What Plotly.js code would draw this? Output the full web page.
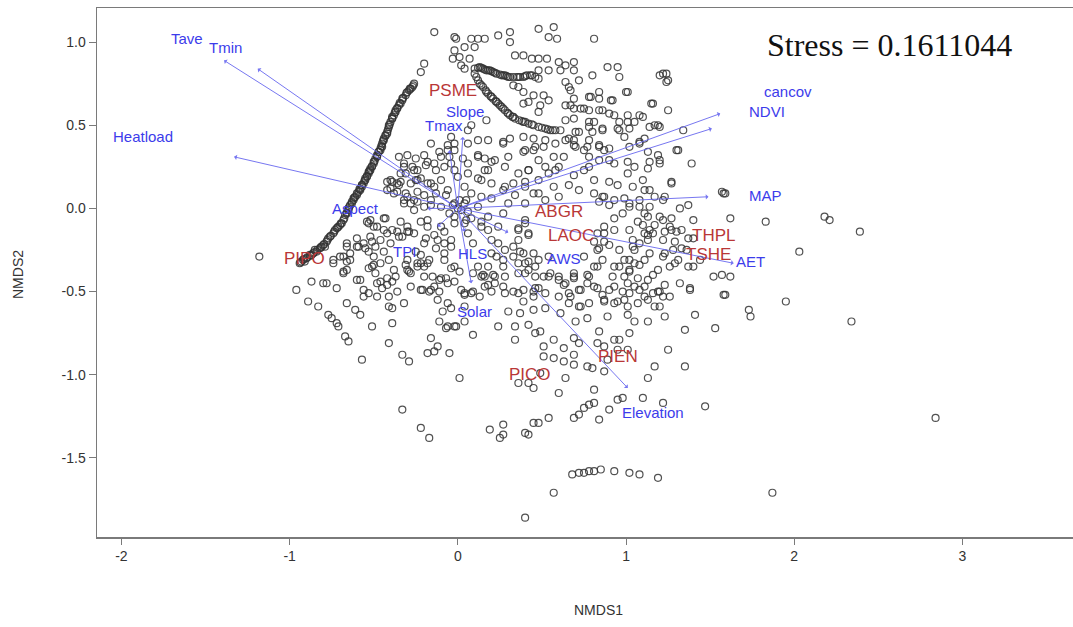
<!DOCTYPE html>
<html>
<head>
<meta charset="utf-8">
<script src="https://cdn.plot.ly/plotly-3.0.1.min.js"></script>
<style>
  html, body { margin: 0; padding: 0; background: #ffffff; }
  #chart { width: 1073px; height: 627px; }
</style>
</head>
<body>
<div id="chart"></div>
<script>
// NMDS site scores [NMDS1, NMDS2]
const sitePoints = [
  // dense ponderosa pine arc
  [-0.94,-0.33],[-0.92,-0.31],[-0.90,-0.30],[-0.88,-0.28],[-0.86,-0.27],[-0.84,-0.26],[-0.82,-0.24],[-0.80,-0.22],[-0.78,-0.20],[-0.76,-0.17],
  [-0.74,-0.15],[-0.72,-0.12],[-0.70,-0.10],[-0.68,-0.07],[-0.67,-0.04],[-0.65,-0.01],[-0.64,0.02],[-0.62,0.05],[-0.61,0.07],[-0.59,0.10],
  [-0.58,0.12],[-0.56,0.15],[-0.55,0.18],[-0.53,0.21],[-0.52,0.24],[-0.50,0.27],[-0.49,0.30],[-0.48,0.32],[-0.46,0.36],[-0.45,0.39],
  [-0.44,0.42],[-0.42,0.46],[-0.41,0.49],[-0.40,0.52],[-0.38,0.56],[-0.37,0.59],[-0.35,0.62],[-0.33,0.65],[-0.31,0.68],[-0.29,0.71],
  [-0.27,0.73],[-0.26,0.75],[-0.91,-0.32],[-0.85,-0.25],[-0.79,-0.23],[-0.73,-0.13],[-0.69,-0.09],[-0.66,-0.03],[-0.63,0.03],[-0.60,0.08],
  [-0.57,0.14],[-0.54,0.19],[-0.51,0.25],[-0.47,0.34],[-0.45,0.37],[-0.43,0.44],[-0.41,0.50],[-0.39,0.54],[-0.36,0.60],[-0.34,0.63],
  [-0.30,0.70],[-0.28,0.72],[-0.53,0.22],[-0.57,0.13],[-0.48,0.31],[-0.44,0.41],[-0.93,-0.32],[-0.87,-0.28],[-0.81,-0.23],[-0.77,-0.18],
  [-0.71,-0.11],[-0.65,0.00],[-0.62,0.06],[-0.58,0.11],[-0.55,0.17],[-0.52,0.23],[-0.50,0.28],[-0.46,0.35],[-0.42,0.45],[-0.39,0.55],
  [-0.37,0.58],[-0.33,0.66],
  [-0.935,-0.325],[-0.915,-0.305],[-0.895,-0.295],[-0.875,-0.285],[-0.855,-0.265],[-0.835,-0.25],[-0.815,-0.235],[-0.795,-0.215],
  [-0.775,-0.19],[-0.755,-0.165],[-0.735,-0.14],[-0.715,-0.115],[-0.695,-0.09],[-0.675,-0.06],[-0.66,-0.025],[-0.645,0.01],
  [-0.63,0.04],[-0.615,0.065],[-0.60,0.09],[-0.585,0.115],[-0.57,0.14],[-0.555,0.165],[-0.54,0.195],[-0.525,0.225],
  [-0.51,0.255],[-0.495,0.285],[-0.48,0.315],[-0.47,0.34],[-0.455,0.375],[-0.445,0.405],[-0.43,0.435],[-0.415,0.475],
  [-0.405,0.505],[-0.39,0.54],[-0.375,0.575],[-0.36,0.605],[-0.345,0.635],[-0.325,0.665],[-0.305,0.695],[-0.285,0.72],[-0.265,0.74],
  // Douglas-fir chains
  [0.13,0.85],[0.17,0.83],[0.21,0.82],[0.26,0.80],[0.30,0.79],[0.36,0.79],[0.39,0.79],[0.44,0.80],[0.48,0.78],[0.10,0.84],
  [0.15,0.84],[0.19,0.83],[0.23,0.81],[0.28,0.80],[0.33,0.79],[0.41,0.80],[0.46,0.79],[0.48,0.83],[0.54,0.83],[0.61,0.83],
  [0.12,0.845],[0.14,0.845],[0.16,0.835],[0.18,0.83],[0.20,0.825],[0.22,0.815],[0.25,0.805],[0.27,0.80],[0.29,0.795],[0.31,0.79],
  [0.35,0.79],[0.37,0.79],[0.40,0.795],[0.43,0.80],
  [0.10,0.81],[0.12,0.77],[0.15,0.73],[0.18,0.69],[0.21,0.66],[0.24,0.63],[0.28,0.59],[0.31,0.56],[0.34,0.54],[0.39,0.52],
  [0.42,0.51],[0.45,0.50],[0.55,0.47],[0.58,0.47],[0.61,0.47],[0.13,0.75],[0.165,0.71],[0.195,0.675],[0.225,0.645],[0.26,0.61],
  [0.295,0.575],[0.325,0.55],[0.365,0.53],[0.48,0.49],[0.52,0.48],
  [0.11,0.79],[0.14,0.74],[0.17,0.70],[0.20,0.67],[0.23,0.64],[0.25,0.62],[0.27,0.60],[0.30,0.57],[0.33,0.55],[0.38,0.525],
  [0.40,0.52],[0.44,0.505],[0.50,0.485],[0.535,0.475],[0.565,0.47],
  // upper centre
  [-0.14,1.06],[-0.02,1.03],[-0.01,1.02],[0.08,1.02],[0.12,1.02],[0.16,1.02],[0.24,1.04],[0.31,1.06],[0.31,1.00],[0.48,1.08],
  [0.57,1.09],[0.54,1.03],[0.59,1.02],[-0.02,0.95],[0.04,0.97],[0.10,0.97],[-0.03,0.90],[0.01,0.91],[0.02,0.86],[0.04,0.84],
  [0.07,0.90],[-0.20,0.87],[-0.22,0.82],[0.34,0.92],[0.39,0.92],[0.44,0.90],[0.48,0.90],[0.53,0.90],[0.60,0.88],[0.64,0.86],
  [0.64,0.76],[0.66,0.73],[0.33,0.74],[0.36,0.73],[0.39,0.70],[0.45,0.68],[0.51,0.68],[0.54,0.65],[0.42,0.64],[0.39,0.63],
  [0.48,0.58],[0.49,0.62],[0.64,0.62],[0.69,0.60],[0.64,0.53],[0.17,0.53],[0.08,0.50],[0.12,0.41],[0.18,0.41],[0.27,0.40],
  [0.31,0.42],[0.39,0.34],[0.45,0.35],[0.51,0.37],[-0.06,0.38],[-0.02,0.39],[0.06,0.47],[-0.11,0.34],[-0.05,0.31],[0.03,0.30],
  [0.12,0.32],[0.16,0.30],[0.20,0.28],[-0.30,0.32],[-0.25,0.30],[-0.18,0.28],[0.66,0.42],[0.69,0.38],
  // upper right
  [0.81,1.02],[0.89,0.85],[0.95,0.85],[0.96,0.79],[0.69,0.88],[0.72,0.77],[0.80,0.80],[1.22,0.81],[1.25,0.77],[1.01,0.70],
  [0.69,0.66],[0.73,0.60],[0.78,0.67],[0.84,0.66],[0.92,0.65],[0.84,0.59],[0.90,0.57],[1.01,0.56],[1.08,0.56],[1.15,0.63],
  [1.25,0.59],[1.14,0.49],[1.19,0.50],[1.05,0.52],[0.96,0.52],[1.02,0.48],[0.96,0.47],[0.86,0.48],[0.78,0.49],[0.72,0.46],
  [1.34,0.47],[1.30,0.35],[1.39,0.27],[0.70,0.37],[0.77,0.37],[0.84,0.37],[0.90,0.36],[1.02,0.37],[1.08,0.39],[1.13,0.34],
  [1.19,0.32],[1.20,0.27],[1.05,0.25],[1.13,0.24],[1.01,0.21],[0.84,0.29],[0.93,0.27],[0.78,0.25],[0.75,0.23],[0.69,0.20],
  [0.81,0.17],[0.90,0.16],[0.95,0.14],[0.66,0.14],[0.72,0.11],[1.11,0.11],[1.17,0.07],[1.23,0.07],[1.27,0.16],[1.08,0.05],
  [1.14,0.01],[0.99,0.06],[1.02,0.03],[0.87,0.07],[0.93,0.05],[0.81,0.09],[0.84,0.04],[1.57,0.10],[1.59,0.09],
  [0.69,0.83],[1.20,0.80],[1.24,0.81],[1.24,0.76],[0.67,0.71],[0.84,0.70],[0.79,0.67],[1.00,0.70],[0.67,0.62],[0.75,0.60],
  [0.78,0.59],[0.86,0.59],[0.91,0.65],[1.16,0.63],[0.69,0.54],[0.78,0.52],[0.81,0.52],[0.93,0.56],[1.01,0.52],[1.10,0.55],
  [1.17,0.50],[1.20,0.49],[0.70,0.46],[0.80,0.46],[0.86,0.47],[0.95,0.48],[0.69,0.41],[0.78,0.41],[0.84,0.38],[0.87,0.35],
  [0.99,0.43],[1.08,0.40],[1.11,0.42],[0.75,0.35],[0.78,0.31],[1.31,0.35],[0.90,0.29],[1.01,0.28],[1.14,0.28],[1.20,0.29],
  // right of origin, middle band
  [1.62,-0.06],[1.83,-0.08],[1.40,-0.07],[1.33,-0.13],[1.27,-0.06],[1.20,-0.05],[1.13,-0.05],[1.07,-0.08],[1.02,-0.13],[1.11,-0.15],
  [1.14,-0.13],[1.13,-0.19],[1.29,-0.20],[1.33,-0.24],[1.40,-0.18],[1.23,-0.27],[1.29,-0.33],[1.37,-0.35],[2.03,-0.26],[0.87,-0.11],
  [0.93,-0.13],[0.87,-0.15],[0.83,-0.15],[0.81,-0.20],[0.83,-0.25],[0.90,-0.22],[0.96,-0.25],[1.04,-0.23],[0.99,-0.31],[1.05,-0.33],
  [0.93,-0.35],[0.75,-0.29],[0.81,-0.35],[0.40,-0.07],[0.36,-0.13],[0.42,-0.15],[0.33,-0.23],[0.39,-0.27],[0.40,-0.33],[0.24,-0.11],
  [0.20,-0.19],[0.18,-0.05],[0.27,-0.03],[0.12,0.01],[0.14,-0.11],[0.05,-0.07],[0.06,-0.15],[0.09,-0.21],[0.23,-0.29],[0.27,-0.35],
  [0.46,-0.35],[0.55,-0.39],[0.69,-0.41],[0.78,-0.41],[0.40,0.16],[0.48,0.17],[0.54,0.21],[0.60,0.25],[0.28,0.13],[0.34,0.08],
  [0.45,0.09],[0.52,0.05],[0.60,0.07],[0.63,0.31],[0.57,0.31],[0.48,0.29],[0.42,0.23],[0.36,0.21],[0.46,0.37],[0.40,0.35],
  [0.52,0.41],[0.58,0.39],[0.64,0.41],[0.45,0.42],[0.39,0.43],[0.27,0.39],[0.30,0.31],[0.22,0.29],[0.18,0.23],[0.12,0.31],
  [0.14,0.17],[0.00,0.19],[0.04,0.13],[0.06,0.27],[0.06,0.39],[-0.02,0.35],[-0.04,0.27],
  [1.27,0.15],[1.58,0.09],[1.32,0.00],[1.37,0.02],[1.26,-0.11],[1.23,-0.14],[1.27,-0.13],[1.30,-0.14],[1.22,-0.19],[1.16,-0.15],
  [1.13,-0.16],[1.10,-0.10],[1.17,-0.10],[1.22,-0.07],[1.28,-0.25],[1.22,-0.29],[1.31,-0.31],[1.36,-0.25],[1.37,-0.18],[1.40,-0.35],
  [1.44,-0.31],[1.52,-0.41],[1.57,-0.40],[1.62,-0.41],[1.58,-0.52],[1.38,-0.48],[1.32,-0.45],[1.23,-0.46],[1.26,-0.35],[1.19,-0.37],
  [1.16,-0.40],[1.11,-0.47],[1.14,-0.27],[1.11,-0.31],[1.08,-0.34],[1.05,-0.25],[1.04,-0.19],[1.08,-0.21],[1.02,-0.31],[1.02,-0.38],
  [0.99,-0.41],[1.01,-0.45],[1.05,-0.47],[1.02,-0.51],[0.98,-0.50],[0.93,-0.47],[0.92,-0.41],[0.90,-0.49],[0.86,-0.52],[0.81,-0.47],
  [0.87,-0.56],[0.93,-0.57],[0.99,-0.55],[1.07,-0.57],[1.11,-0.53],[1.16,-0.51],[1.20,-0.50],[1.22,-0.53],[0.86,-0.31],[0.83,-0.35],
  [0.84,-0.24],[0.87,-0.20],[0.93,-0.06],[0.98,-0.03],[1.02,0.01],[0.90,0.02],[0.86,0.07],[1.11,-0.03],[1.08,0.01],[1.04,0.13],
  [1.10,0.17],[1.14,0.11],[1.22,0.05],[0.73,-0.59],[0.66,-0.57],[0.73,-0.49],[0.77,-0.40],[0.69,-0.39],[0.64,-0.45],[0.66,-0.51],
  // around the origin
  [-0.32,0.25],[-0.26,0.23],[-0.19,0.26],[-0.13,0.23],[-0.08,0.25],[-0.02,0.23],[-0.40,0.17],[-0.35,0.14],[-0.28,0.15],[-0.22,0.18],
  [-0.16,0.15],[-0.10,0.17],[-0.31,0.09],[-0.26,0.05],[-0.20,0.08],[-0.13,0.09],[-0.07,0.08],[-0.32,0.03],[-0.26,-0.01],[-0.16,0.02],
  [-0.10,0.01],[0.06,0.21],[0.12,0.18],[0.16,0.23],[0.20,0.15],[0.27,0.11],[0.33,0.15],[0.08,0.09],[0.14,0.07],[0.20,0.06],
  [0.30,0.03],[0.28,0.25],[0.42,0.23],[0.52,0.25],[0.58,0.23],[0.40,0.13],[0.48,0.09],[0.57,0.13],[0.40,0.03],
  [0.00,0.00],[0.02,-0.01],[-0.03,0.02],[0.04,0.03],[-0.05,-0.03],[0.06,-0.02],[0.01,0.05],[-0.02,-0.05],
  [-0.54,-0.08],[-0.48,-0.11],[-0.43,-0.06],[-0.39,-0.13],[-0.35,-0.17],[-0.30,-0.14],[-0.22,-0.08],[-0.18,-0.11],[-0.19,-0.18],[-0.14,-0.16],
  [-0.08,-0.14],[-0.02,-0.09],[0.04,-0.09],[0.08,-0.06],[0.14,-0.08],[0.18,-0.13],[0.36,-0.12],[0.40,-0.09],[0.36,-0.19],[0.42,-0.16],
  [-0.60,-0.18],[-0.66,-0.21],[-0.55,-0.24],[-0.49,-0.23],[-0.50,-0.29],[-0.44,-0.26],[-0.53,-0.36],[-0.46,-0.33],[-0.41,-0.31],[-0.38,-0.37],
  [-0.31,-0.34],[-0.22,-0.28],[-0.17,-0.31],[-0.13,-0.24],[-0.08,-0.27],[-0.04,-0.23],[-0.08,-0.21],[-0.22,-0.33],[-0.28,-0.39],[-0.20,-0.41],
  [-0.15,-0.41],[-0.10,-0.42],[-0.04,-0.36],[0.01,-0.38],[0.09,-0.39],[0.14,-0.41],[0.12,-0.35],[0.18,-0.35],[0.27,-0.31],[0.33,-0.29],
  [0.24,-0.21],[0.28,-0.25],[0.20,-0.27],[0.37,-0.26],[0.45,-0.27],[0.36,-0.33],[0.42,-0.32],[0.48,-0.31],[0.54,-0.29],[0.40,-0.39],
  [0.46,-0.41],[0.54,-0.41],[0.60,-0.43],[0.48,-0.48],[0.52,-0.51],[0.45,-0.53],[0.36,-0.51],[0.27,-0.47],[0.20,-0.50],[0.15,-0.40],
  [0.16,-0.47],[0.22,-0.41],[0.08,-0.51],[0.02,-0.49],[-0.06,-0.45],[-0.14,-0.47],[-0.22,-0.49],[-0.17,-0.50],[-0.28,-0.47],[-0.36,-0.50],
  [-0.42,-0.42],[-0.48,-0.45],[-0.56,-0.49],[-0.60,-0.43],[-0.64,-0.31],[-0.66,-0.37],[-0.56,-0.53],[-0.48,-0.53],[-0.41,-0.59],[-0.32,-0.57],
  [-0.12,-0.55],[-0.06,-0.57],[0.04,-0.59],
  // lower left
  [-0.96,-0.49],[-0.87,-0.44],[-0.80,-0.45],[-0.78,-0.45],[-0.89,-0.56],[-0.83,-0.59],[-0.77,-0.64],[-0.75,-0.66],[-0.72,-0.69],[-0.71,-0.71],
  [-0.67,-0.77],[-0.65,-0.80],[-0.68,-0.39],[-0.72,-0.48],[-0.58,-0.43],[-0.53,-0.51],[-0.66,-0.57],[-0.61,-0.61],[-0.58,-0.64],[-0.51,-0.71],
  [-0.50,-0.34],[-0.46,-0.44],[-0.45,-0.48],[-0.42,-0.46],[-0.39,-0.44],[-0.37,-0.41],[-0.41,-0.53],[-0.39,-0.60],[-0.39,-0.69],[-0.41,-0.81],
  [-0.57,-0.91],[-0.33,-0.88],[-0.29,-0.92],[-0.29,-0.38],[-0.24,-0.33],[-0.20,-0.35],[-0.21,-0.49],[-0.16,-0.49],[-0.11,-0.50],[-0.11,-0.43],
  [-0.07,-0.42],[-0.02,-0.44],[-0.16,-0.78],[-0.18,-0.87],[-0.14,-0.86],[-0.12,-0.83],[-0.05,-0.87],[-0.11,-0.68],[-0.07,-0.72],[-0.01,-0.71],
  [-0.09,-0.62],[-0.04,-0.60],[0.04,-0.68],[0.04,-0.52],[0.01,-1.02],[-0.33,-1.21],[-0.22,-1.32],[-0.17,-1.38],[0.09,-0.76],[-0.74,-0.33],
  [-0.66,-0.32],
  // lower centre and right
  [0.04,-0.51],[0.09,-0.50],[0.13,-0.53],[0.16,-0.41],[0.21,-0.40],[0.28,-0.41],[0.18,-0.46],[0.22,-0.45],[0.36,-0.39],[0.42,-0.37],
  [0.28,-0.51],[0.33,-0.50],[0.39,-0.49],[0.45,-0.50],[0.46,-0.48],[0.51,-0.41],[0.60,-0.41],[0.63,-0.46],[0.69,-0.42],[0.77,-0.45],
  [0.83,-0.48],[0.72,-0.49],[0.52,-0.60],[0.60,-0.53],[0.67,-0.53],[0.61,-0.63],[0.70,-0.68],[0.39,-0.56],[0.45,-0.61],[0.37,-0.63],
  [0.30,-0.62],[0.24,-0.71],[0.34,-0.71],[0.42,-0.70],[0.46,-0.75],[0.49,-0.74],[0.34,-0.79],[-0.06,-0.71],[-0.02,-0.71],[0.57,-0.79],
  [0.63,-0.84],[0.51,-0.83],[0.51,-0.89],[0.57,-0.90],[0.63,-0.92],[0.69,-0.88],[0.69,-0.94],[0.64,-1.02],[0.60,-1.11],[0.49,-0.99],
  [0.45,-1.08],[0.42,-1.05],[0.36,-1.05],[0.72,-0.81],[0.69,-0.78],[0.77,-0.95],[0.80,-0.96],[0.83,-0.81],[0.87,-0.83],[0.89,-0.91],
  [0.93,-0.79],[0.96,-0.79],[0.95,-0.85],[1.01,-0.85],[0.87,-0.98],[0.72,-0.59],[0.77,-0.66],[0.78,-0.57],[0.87,-0.55],[0.89,-0.65],
  [0.95,-0.56],[0.84,-0.74],[1.01,-0.59],[1.01,-0.64],[1.05,-0.68],[1.02,-0.75],[1.13,-0.55],[1.13,-0.68],[1.08,-0.49],[1.13,-0.43],
  [0.96,-0.35],[1.02,-0.37],[1.07,-0.42],[1.17,-0.59],[1.20,-0.59],[1.23,-0.65],[1.19,-0.50],[1.26,-0.53],[1.38,-0.49],[1.41,-0.64],
  [1.35,-0.73],[1.53,-0.72],[1.25,-0.85],[1.17,-0.95],[1.13,-1.02],[1.35,-0.95],[1.73,-0.61],[1.74,-0.65],[1.59,-0.52],[1.95,-0.56],
  [0.81,-1.09],[0.81,-1.17],[0.78,-1.18],[0.75,-1.20],[0.72,-1.24],[0.69,-1.26],[0.84,-1.27],[0.90,-1.21],[0.95,-1.15],[0.98,-1.14],
  [1.10,-1.14],[1.22,-1.17],[1.47,-1.19],[0.54,-1.26],[0.45,-1.29],[0.48,-1.29],[0.19,-1.33],[0.27,-1.30],[0.25,-1.38],[0.27,-1.36],
  [0.40,-1.35],[0.42,-1.36],[0.57,-1.71],[0.40,-1.86],
  [0.68,-1.60],[0.72,-1.59],[0.75,-1.59],[0.78,-1.58],[0.81,-1.58],[0.85,-1.57],[0.93,-1.58],[1.02,-1.59],[1.08,-1.60],[1.19,-1.62],
  [1.87,-1.71],[2.18,-0.05],[2.21,-0.07],[2.39,-0.14],[2.34,-0.68],[2.84,-1.26],
  // left cluster
  [-1.18,-0.29],[-0.74,-0.31],[-0.68,-0.29],[-0.64,-0.27],[-0.59,-0.23],[-0.53,-0.26],[-0.51,-0.20],[-0.46,-0.19],[-0.42,-0.15],[-0.53,-0.09],
  [-0.50,-0.11],[-0.36,-0.14],[-0.33,-0.17],[-0.29,-0.14],[-0.34,-0.08],[-0.40,-0.21],[-0.68,-0.38],[-0.51,-0.35],[-0.49,-0.39],[-0.30,-0.31],
  [-0.25,-0.26],[-0.35,0.31],[-0.32,0.27],[-0.27,0.25],[-0.24,0.23],[-0.34,0.21],[-0.39,0.16],[-0.34,0.16],[-0.24,0.17],[-0.40,0.12],
  [-0.36,0.10],[-0.24,0.10],[-0.32,0.05],[-0.28,0.03],[-0.24,0.04],[-0.31,0.21],[-0.25,0.17],[-0.18,0.15],[-0.14,0.27],[-0.10,0.31],
  [-0.06,0.35],[-0.04,0.43],[-0.16,0.39],[-0.20,0.32],[-0.14,0.13],[-0.06,0.11],[0.05,0.05],[-0.02,0.03],[-0.16,0.05],[-0.20,0.01],
  [-0.30,0.07],[-0.38,0.09],[-0.42,0.11],[-0.42,0.16],[-0.36,0.15],[-0.52,-0.07],[-0.44,-0.06],[-0.44,-0.13],[-0.30,-0.11],[-0.26,-0.15],
  [-0.18,-0.07],[-0.10,-0.11],[-0.04,-0.19],[-0.12,-0.19],[-0.20,-0.21],[-0.08,-0.31],[-0.02,-0.35],[-0.18,-0.33],[-0.24,-0.35],[-0.30,-0.37],
  [-0.56,-0.21],[-0.52,-0.17],[-0.60,-0.23],[-0.66,-0.23],[-0.70,-0.29]
];

// Fitted environmental vectors (arrow tips) and their label positions
const vecNames  = ['Tave', 'Tmin', 'Heatload', 'cancov', 'NDVI', 'MAP', 'AET', 'Elevation', 'Solar', 'Slope', 'Tmax', 'Aspect', 'TPI', 'HLS', 'AWS'];
const vecX      = [-1.39, -1.19, -1.33, 1.56, 1.51, 1.49, 1.64, 1.01, 0.08, 0.03, -0.05, -0.18, -0.12, 0.04, 0.30];
const vecY      = [0.89, 0.84, 0.31, 0.57, 0.48, 0.07, -0.33, -1.08, -0.45, 0.43, 0.35, 0.00, -0.11, -0.14, -0.145];
const vecLabelX = [-1.61, -1.38, -1.87, 1.96, 1.84, 1.83, 1.74, 1.16, 0.10, 0.04, -0.08, -0.61, -0.32, 0.09, 0.63];
const vecLabelY = [1.02, 0.97, 0.43, 0.70, 0.58, 0.08, -0.32, -1.23, -0.62, 0.58, 0.50, 0.00, -0.26, -0.27, -0.30];

// Species scores
const sppNames = ['PSME', 'ABGR', 'LAOC', 'THPL', 'TSHE', 'PIEN', 'PICO', 'PIPO'];
const sppX     = [-0.03, 0.60, 0.67, 1.52, 1.49, 0.95, 0.43, -0.91];
const sppY     = [0.71, -0.02, -0.16, -0.16, -0.28, -0.89, -1.00, -0.30];

const stressValue = 0.1611044;

const tickVals = { x: [-2, -1, 0, 1, 2, 3], y: [1.0, 0.5, 0.0, -0.5, -1.0, -1.5] };

const siteTrace = {
  type: 'scatter',
  mode: 'markers',
  x: sitePoints.map(p => p[0]),
  y: sitePoints.map(p => p[1]),
  marker: { symbol: 'circle-open', size: 7, color: 'rgba(50,50,50,0.85)', line: { width: 1.2 } },
  hoverinfo: 'skip',
  showlegend: false
};

const blue = 'rgb(60,60,235)';
const arrowColor = 'rgba(105,105,240,0.9)';
const red = 'rgb(185,55,55)';
const labelFont = 'Liberation Sans, Arial, sans-serif';

// plot area in pixels, used to place the axis titles
const plotL = 97, plotR = 1073, plotT = 8, plotB = 537;

const annotations = [];
vecNames.forEach((n, i) => {
  annotations.push({
    x: vecX[i], y: vecY[i], xref: 'x', yref: 'y',
    ax: 0, ay: 0, axref: 'x', ayref: 'y',
    showarrow: true, arrowhead: 1, arrowsize: 0.9, arrowwidth: 1,
    arrowcolor: arrowColor, text: ''
  });
});
vecNames.forEach((n, i) => {
  annotations.push({
    x: vecLabelX[i], y: vecLabelY[i], xref: 'x', yref: 'y',
    text: n, showarrow: false,
    font: { family: labelFont, size: 15, color: blue }
  });
});
sppNames.forEach((n, i) => {
  annotations.push({
    x: sppX[i], y: sppY[i], xref: 'x', yref: 'y',
    text: n, showarrow: false,
    font: { family: labelFont, size: 17, color: red }
  });
});
annotations.push({
  x: (765 - plotL) / (plotR - plotL), y: 0.930, xref: 'paper', yref: 'paper', xanchor: 'left', yanchor: 'middle',
  text: 'Stress = ' + stressValue, showarrow: false,
  font: { family: 'Liberation Serif, Times New Roman, serif', size: 32, color: '#111' }
});
annotations.push({
  x: (598 - plotL) / (plotR - plotL), y: -(610 - plotB) / (plotB - plotT),
  xref: 'paper', yref: 'paper', xanchor: 'center', yanchor: 'middle',
  text: 'NMDS1', showarrow: false,
  font: { family: labelFont, size: 14, color: '#333' }
});
annotations.push({
  x: -(plotL - 18) / (plotR - plotL), y: (plotB - 275) / (plotB - plotT),
  xref: 'paper', yref: 'paper', xanchor: 'center', yanchor: 'middle',
  text: 'NMDS2', showarrow: false, textangle: -90,
  font: { family: labelFont, size: 14, color: '#333' }
});

const layout = {
  width: 1073, height: 627,
  margin: { l: plotL, r: 0, t: plotT, b: 627 - plotB, pad: 0 },
  paper_bgcolor: '#ffffff', plot_bgcolor: '#ffffff',
  xaxis: {
    range: [-2.145, 3.657], tickvals: tickVals.x, ticktext: tickVals.x.map(String),
    showgrid: false, zeroline: false, showline: true, mirror: true,
    linecolor: '#7a7a7a', linewidth: 1.5, ticks: 'outside', ticklen: 6, tickcolor: '#7a7a7a',
    tickfont: { family: labelFont, size: 14, color: '#333' }
  },
  yaxis: {
    range: [-1.976, 1.205], tickvals: tickVals.y, ticktext: tickVals.y.map(v => v.toFixed(1)),
    showgrid: false, zeroline: false, showline: true, mirror: false,
    linecolor: '#7a7a7a', linewidth: 1.5, ticks: 'outside', ticklen: 7, tickcolor: '#7a7a7a',
    tickfont: { family: labelFont, size: 14, color: '#333' }
  },
  annotations: annotations,
  showlegend: false
};

Plotly.newPlot('chart', [siteTrace], layout, { displayModeBar: false, staticPlot: true });
</script>
</body>
</html>
